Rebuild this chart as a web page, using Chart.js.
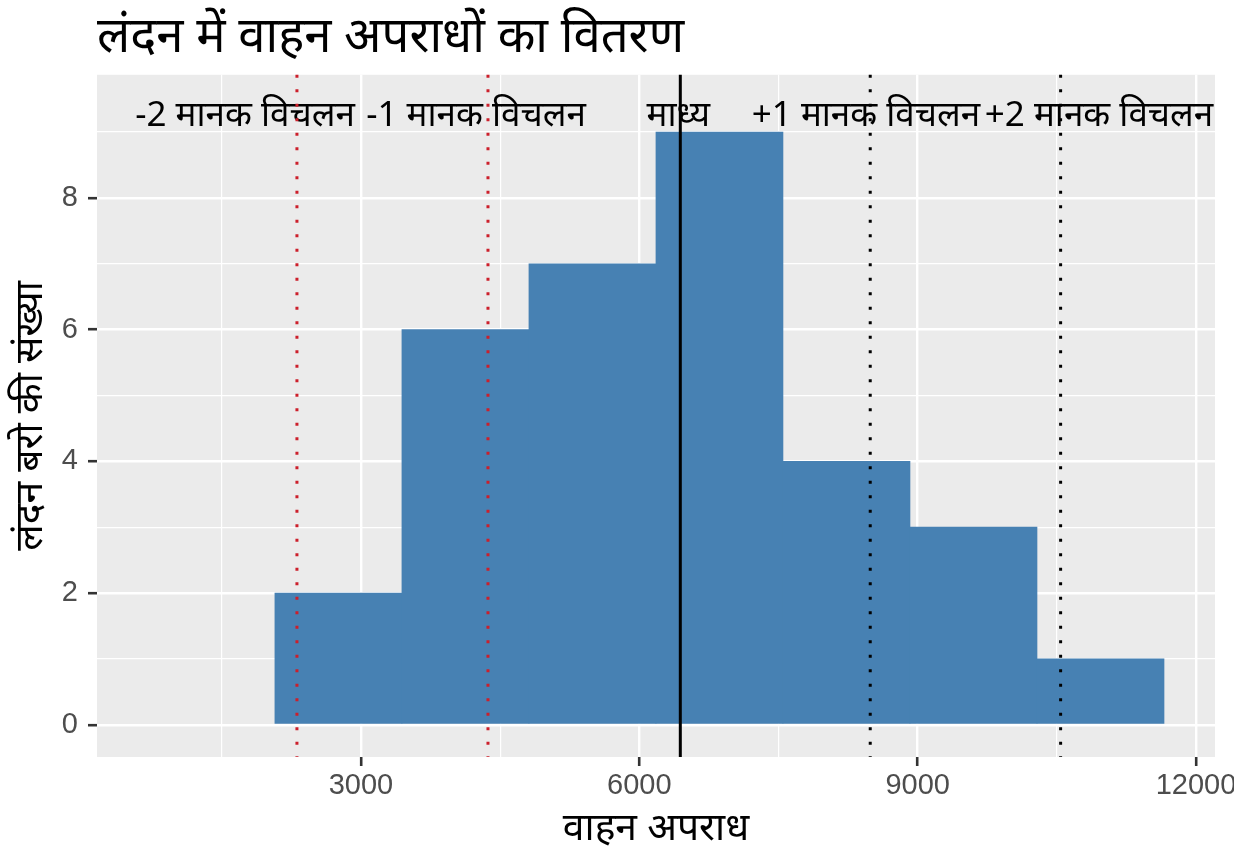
<!DOCTYPE html>
<html>
<head>
<meta charset="utf-8">
<script src="https://cdn.jsdelivr.net/npm/chart.js@4.4.0/dist/chart.umd.min.js"></script>
<style>
  body { margin: 0; background: #fff; }
  #wrap { width: 1234px; height: 864px; }
</style>
</head>
<body>
<div id="wrap"><canvas id="crime-hist" width="1234" height="864"></canvas></div>
<script>
// histogram bins (centres) and counts
var binCenters = [2757, 4126, 5495, 6864, 8233, 9602, 10971];
var counts = [2, 6, 7, 9, 4, 3, 1];

// mean and +-1/2 standard deviation lines
var refValues = [2310, 4369, 6442, 8489, 10541];
var refLabels = ['-2 मानक विचलन', '-1 मानक विचलन', 'माध्य', '+1 मानक विचलन', '+2 मानक विचलन'];
var refLabelX = [1750, 4240, 6420, 8443, 10955];
var refLabelY = 9.25;

// axis ticks
var xMajor = [3000, 6000, 9000, 12000];
var xMinor = [1500, 4500, 7500, 10500];
var yMajor = [0, 2, 4, 6, 8];
var yMinor = [1, 3, 5, 7, 9];

var refStyles = [
  { color: '#CC1F2B', dash: [3, 11.5], width: 3 },
  { color: '#CC1F2B', dash: [3, 11.5], width: 3 },
  { color: '#000000', dash: [], width: 3 },
  { color: '#000000', dash: [3, 11.5], width: 3 },
  { color: '#000000', dash: [3, 11.5], width: 3 }
];

var hindiFont = "'Noto Sans', 'Noto Sans Devanagari', 'Lohit Devanagari', sans-serif";
var numFont = "'Liberation Sans', Arial, sans-serif";

function mergeTicks(major, minor) {
  return major.concat(minor).sort(function (a, b) { return a - b; })
    .map(function (v) { return { value: v, major: major.indexOf(v) >= 0 }; });
}

var panelBg = {
  id: 'panelBg',
  beforeDraw: function (chart) {
    var a = chart.chartArea, c = chart.ctx;
    c.save();
    c.fillStyle = '#EBEBEB';
    c.fillRect(a.left, a.top, a.right - a.left, a.bottom - a.top);
    c.restore();
  }
};

var refLines = {
  id: 'refLines',
  afterDatasetsDraw: function (chart) {
    var c = chart.ctx, a = chart.chartArea;
    var xs = chart.scales.x, ys = chart.scales.y;
    c.save();
    c.font = '35px ' + hindiFont;
    c.fillStyle = '#000';
    c.textAlign = 'center';
    c.textBaseline = 'middle';
    refLabels.forEach(function (t, i) {
      c.fillText(t, xs.getPixelForValue(refLabelX[i]), ys.getPixelForValue(refLabelY));
    });
    refValues.forEach(function (v, i) {
      var s = refStyles[i];
      var px = xs.getPixelForValue(v);
      c.beginPath();
      c.strokeStyle = s.color;
      c.lineWidth = s.width;
      c.setLineDash(s.dash);
      c.moveTo(px, a.top);
      c.lineTo(px, a.bottom);
      c.stroke();
    });
    c.restore();
  }
};

var ctx = document.getElementById('crime-hist').getContext('2d');
var chart = new Chart(ctx, {
  type: 'bar',
  data: {
    datasets: [{
      data: binCenters.map(function (x, i) { return { x: x, y: counts[i] }; }),
      backgroundColor: '#4781B3',
      borderWidth: 0,
      barPercentage: 1,
      categoryPercentage: 1
    }]
  },
  options: {
    responsive: false,
    animation: false,
    layout: { padding: { right: 19, left: 0, top: 0, bottom: 0 } },
    plugins: {
      legend: { display: false },
      tooltip: { enabled: false },
      title: {
        display: true,
        text: 'लंदन में वाहन अपराधों का वितरण',
        align: 'start',
        fullSize: false,
        color: '#000',
        font: { family: hindiFont, size: 49, weight: 'normal' },
        padding: { top: 9, bottom: 7 }
      }
    },
    scales: {
      x: {
        type: 'linear',
        offset: false,
        min: 155,
        max: 12205,
        afterBuildTicks: function (s) { s.ticks = mergeTicks(xMajor, xMinor); },
        afterFit: function (s) { s.height = 107; s.paddingLeft = 0; s.paddingRight = 0; },
        border: { display: false },
        grid: {
          offset: false,
          color: '#FFFFFF',
          lineWidth: function (c) { return c.tick && c.tick.major ? 2.4 : 1.2; },
          tickLength: 9,
          tickWidth: 2.6,
          tickColor: function (c) { return c.tick && c.tick.major ? '#333333' : 'rgba(0,0,0,0)'; }
        },
        ticks: {
          autoSkip: false,
          maxRotation: 0,
          padding: 3,
          color: '#4D4D4D',
          font: { family: numFont, size: 29 },
          callback: function (v) { return xMajor.indexOf(v) >= 0 ? String(v) : ''; }
        },
        title: {
          display: true,
          text: 'वाहन अपराध',
          color: '#000',
          font: { family: hindiFont, size: 39 },
          padding: { top: 0, bottom: 12 }
        }
      },
      y: {
        type: 'linear',
        min: -0.49,
        max: 9.87,
        afterBuildTicks: function (s) { s.ticks = mergeTicks(yMajor, yMinor); },
        afterFit: function (s) { s.width = 97; },
        border: { display: false },
        grid: {
          color: '#FFFFFF',
          lineWidth: function (c) { return c.tick && c.tick.major ? 2.4 : 1.2; },
          tickLength: 9,
          tickWidth: 2.6,
          tickColor: function (c) { return c.tick && c.tick.major ? '#333333' : 'rgba(0,0,0,0)'; }
        },
        ticks: {
          autoSkip: false,
          padding: 10,
          color: '#4D4D4D',
          font: { family: numFont, size: 29 },
          callback: function (v) { return yMajor.indexOf(v) >= 0 ? String(v) : ''; }
        },
        title: {
          display: true,
          text: 'लंदन बरो की संख्या',
          color: '#000',
          font: { family: hindiFont, size: 39 },
          padding: { top: 7, bottom: 0 }
        }
      }
    }
  },
  plugins: [panelBg, refLines]
});
</script>
</body>
</html>
